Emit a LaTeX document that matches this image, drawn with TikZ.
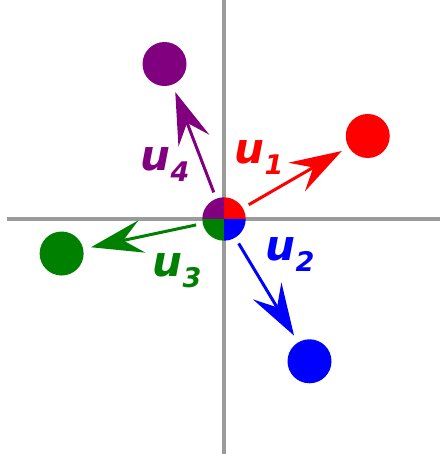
\documentclass[tikz,border=0pt]{standalone}
\usepackage{fontspec}
\setmainfont{DejaVu Sans}
\usetikzlibrary{arrows.meta}
\definecolor{ugreen}{RGB}{0,128,0}
\definecolor{upurple}{RGB}{128,0,128}
\definecolor{axisgray}{RGB}{155,155,155}
\newcommand{\uvec}[1]{u\raisebox{-11pt}{\fontsize{27}{27}\selectfont #1}}

\begin{document}
\begin{tikzpicture}[x=1pt,y=1pt,line width=3pt,>={Stealth[length=52pt,width=33pt,inset=19pt]},
  dot/.style={circle,inner sep=0pt,minimum size=44pt},
  ulabel/.style={inner sep=0pt,font=\fontsize{42}{42}\selectfont\bfseries\itshape}]
  \useasboundingbox (-224,-235) rectangle (216,219);
  % ejes
  \draw[axisgray,line width=4pt] (-217,0) -- (216,0);
  \draw[axisgray,line width=4pt] (0,-235) -- (0,219);
  % centro en cuatro cuartos
  \coordinate (c) at (0,0);
  \fill[red] (c) -- (0:21.7) arc (0:90:21.7) -- cycle;
  \fill[upurple] (c) -- (90:21.7) arc (90:180:21.7) -- cycle;
  \fill[ugreen] (c) -- (180:21.7) arc (180:270:21.7) -- cycle;
  \fill[blue] (c) -- (270:21.7) arc (270:360:21.7) -- cycle;
  % puntos y flechas
  \foreach \a/\c/\n in {30/red/1,-59/blue/2,192/ugreen/3,111/upurple/4}{
    \node[dot,fill=\c] (d\n) at (\a:166) {};
    \draw[->,\c,shorten <=28.5pt,shorten >=6.5pt] (c) -- (d\n);
  }
  \node[ulabel,red] (l1) at (35,61) {\uvec{1}};
  \node[ulabel,blue] (l2) at (66,-36) {\uvec{2}};
  \node[ulabel,ugreen] (l3) at (-47,-52) {\uvec{3}};
  \node[ulabel,upurple] (l4) at (-59,54) {\uvec{4}};
\end{tikzpicture}
\end{document}
